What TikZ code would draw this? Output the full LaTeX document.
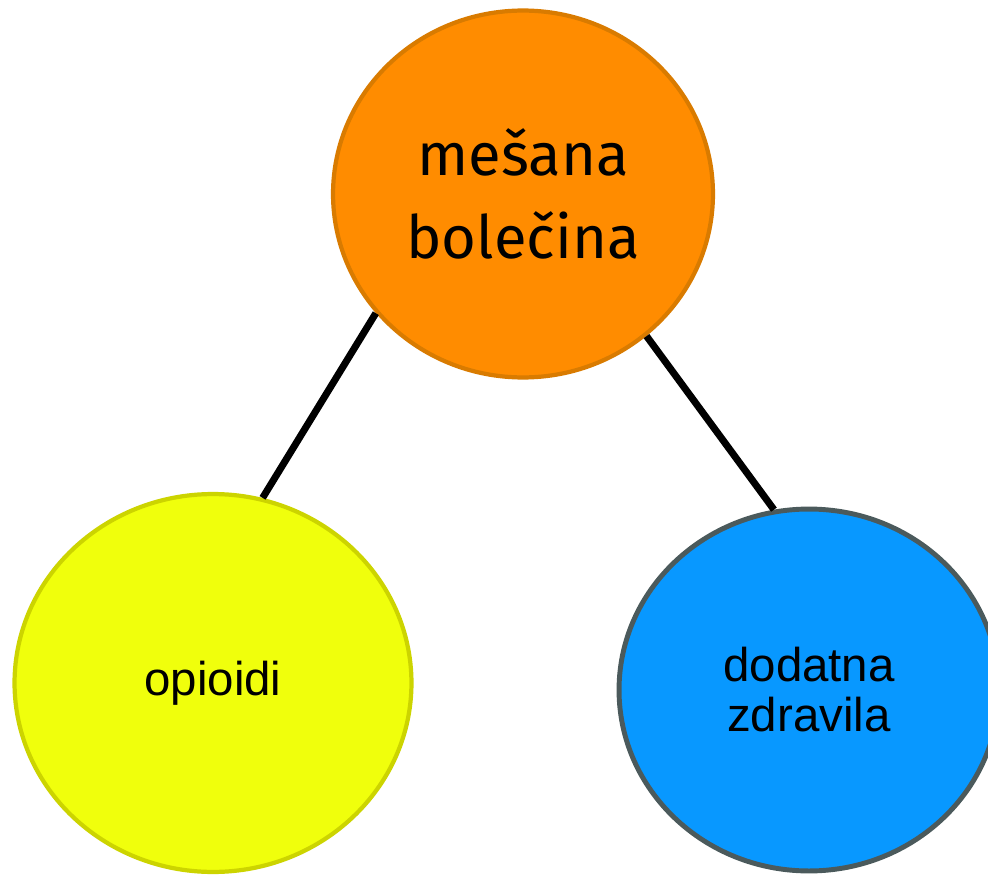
\documentclass[tikz,border=0pt]{standalone}
\usepackage{fontspec}
\setmainfont{Liberation Sans}
\newfontfamily\handfont{Fira Sans}
\usetikzlibrary{shapes.geometric}
\definecolor{painfill}{HTML}{FF8C00}
\definecolor{paindraw}{HTML}{D97B00}
\definecolor{opifill}{HTML}{F0FF0C}
\definecolor{opidraw}{HTML}{CCD400}
\definecolor{addfill}{HTML}{0898FF}
\definecolor{adddraw}{HTML}{4B5A5C}
\tikzset{
  blob/.style={ellipse,inner sep=0pt,align=center,line width=2.4pt},
  link/.style={line width=4pt}
}
\begin{document}
\begin{tikzpicture}[x=0.02cm,y=-0.02cm]
\useasboundingbox (0,0) rectangle (988,875);
%
\node[blob,fill=painfill,draw=paindraw,minimum width=7.6cm,minimum height=7.34cm,
  font=\handfont\fontsize{34}{47}\selectfont] (pain) at (523,194) {mešana\\bolečina};
\node[blob,fill=opifill,draw=opidraw,minimum width=7.94cm,minimum height=7.56cm,
  font=\fontsize{27}{28.5}\selectfont] (opi) at (213,683) {opioidi};
\node[blob,fill=addfill,draw=adddraw,line width=2.8pt,minimum width=7.6cm,minimum height=7.24cm,
  font=\fontsize{27}{28.5}\selectfont] (add) at (809,690) {dodatna\\zdravila};
%
\draw[link](pain.219.8)--(opi.75.5);
\draw[link](pain.311.8)--(add.101.8);
\end{tikzpicture}
\end{document}
